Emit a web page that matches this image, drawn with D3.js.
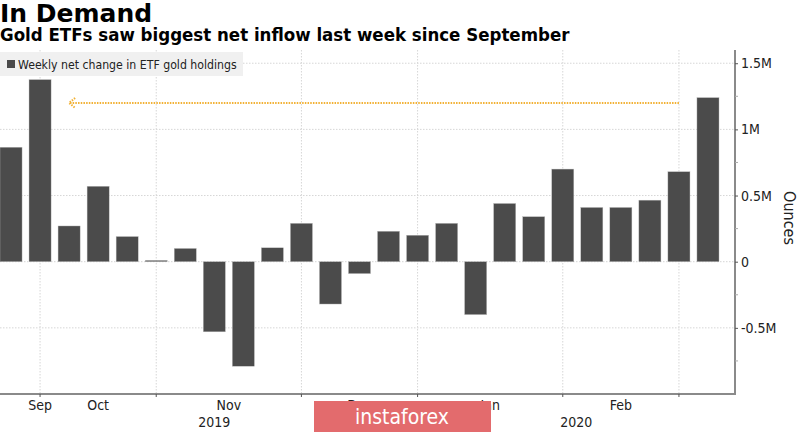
<!DOCTYPE html>
<html><head><meta charset="utf-8">
<script src="https://cdn.jsdelivr.net/npm/d3@7"></script>
<style>
html,body{margin:0;padding:0;background:#fff;}
svg{display:block;}
</style></head>
<body>
<svg id="chart" width="800" height="432"></svg>
<script>
const title = "In Demand";
const subtitle = "Gold ETFs saw biggest net inflow last week since September";
const legendLabel = "Weekly net change in ETF gold holdings";
const axisTitle = "Ounces";

const weeks = ["2019-09-27","2019-10-04","2019-10-11","2019-10-18","2019-10-25",
  "2019-11-01","2019-11-08","2019-11-15","2019-11-22","2019-11-29",
  "2019-12-06","2019-12-13","2019-12-20","2019-12-27",
  "2020-01-03","2020-01-10","2020-01-17","2020-01-24","2020-01-31",
  "2020-02-07","2020-02-14","2020-02-21","2020-02-28",
  "2020-03-06","2020-03-13"];
const netChange = [0.865, 1.376, 0.27, 0.57, 0.19,
  0.01, 0.10, -0.53, -0.79, 0.105,
  0.29, -0.32, -0.09, 0.23,
  0.20, 0.29, -0.40, 0.44, 0.34,
  0.70, 0.41, 0.41, 0.465,
  0.68, 1.24];

const monthTickWeeks = ["2019-10-04","2019-11-01","2019-12-06","2020-01-03","2020-02-07","2020-03-06"];
const monthLabels = ["Sep","Oct","Nov","Dec","Jan","Feb"];
const yearLabels = ["2019","2020"];
const yTicks = [-0.5, 0, 0.5, 1, 1.5];
const yTickLabels = ["-0.5M","0","0.5M","1M","1.5M"];
const yMinorTicks = [-0.75,-0.25,0.25,0.75,1.25];
const arrowFromWeek = "2020-03-06", arrowToWeek = "2019-10-11", arrowValue = 1.2;

const svg = d3.select("#chart");
const axisX = 735, plotTop = 50, plotBottom = 394;
const FONT = "'DejaVu Sans Condensed','DejaVu Sans',sans-serif";

const x = d3.scaleBand().domain(weeks).range([-3.5, 722.5]).paddingInner(0.24).paddingOuter(0.12);
const y = d3.scaleLinear().domain([-1.0, 1.6]).range([plotBottom, plotTop]);
const cx = w => x(w) + x.bandwidth()/2;

// titles
svg.append("text").attr("x", 0).attr("y", 22).attr("font-family", "'DejaVu Sans',sans-serif")
  .attr("font-weight", "bold").attr("font-size", 25).attr("fill", "#000").text(title);
svg.append("text").attr("x", 0).attr("y", 41).attr("font-family", FONT)
  .attr("font-weight", "bold").attr("font-size", 18.5).attr("fill", "#000").text(subtitle);

// gridlines
const grid = svg.append("g");
grid.selectAll("line.h").data(yTicks).join("line")
  .attr("x1", 0).attr("x2", axisX).attr("y1", d => y(d)).attr("y2", d => y(d))
  .attr("stroke", "#d6d6d6").attr("stroke-width", 1).attr("stroke-dasharray", "1.5,1.5");
grid.selectAll("line.v").data(monthTickWeeks).join("line")
  .attr("x1", d => cx(d)).attr("x2", d => cx(d)).attr("y1", plotTop).attr("y2", plotBottom)
  .attr("stroke", "#d6d6d6").attr("stroke-width", 1).attr("stroke-dasharray", "1.5,1.5");

// legend
const lg = svg.append("g");
lg.append("rect").attr("x", 0).attr("y", 52).attr("width", 243).attr("height", 24).attr("fill", "#f0f0f0");
lg.append("rect").attr("x", 7).attr("y", 60).attr("width", 8).attr("height", 8).attr("fill", "#4a4a4a");
lg.append("text").attr("x", 18).attr("y", 68.5).attr("font-family", FONT).attr("font-size", 12.2)
  .attr("fill", "#222").text(legendLabel);

// bars
svg.append("g").selectAll("rect").data(weeks).join("rect")
  .attr("x", d => x(d)).attr("width", x.bandwidth())
  .attr("y", (d,i) => y(Math.max(0, netChange[i])))
  .attr("height", (d,i) => Math.max(1, Math.abs(y(netChange[i]) - y(0))))
  .attr("fill", "#4b4b4b").attr("stroke", "#bdbdbd").attr("stroke-width", 0.4);

// arrow annotation
const ay = y(arrowValue), ax1 = cx(arrowFromWeek), ax2 = cx(arrowToWeek);
const ann = svg.append("g").attr("stroke", "#f2b134").attr("stroke-width", 2).attr("fill", "none")
  .attr("stroke-dasharray", "1.5,1.2");
ann.append("line").attr("x1", ax1).attr("x2", ax2).attr("y1", ay).attr("y2", ay);
ann.append("path").attr("d", `M${ax2+6},${ay-5} L${ax2},${ay} L${ax2+6},${ay+5}`);

// y axis (right)
const yAxis = d3.axisRight(y).tickValues(yTicks).tickFormat((d,i) => yTickLabels[i]).tickSize(3).tickPadding(3);
const ya = svg.append("g").attr("transform", `translate(${axisX},0)`).call(yAxis);
ya.select(".domain").attr("stroke", "#8a8a8a").attr("stroke-width", 2).attr("d", `M0,${plotTop}V${plotBottom}`);
ya.selectAll(".tick line").attr("stroke", "#555");
ya.selectAll(".tick text").attr("font-family", FONT).attr("font-size", 14).attr("fill", "#222");
svg.append("g").attr("transform", `translate(${axisX},0)`).selectAll("line").data(yMinorTicks).join("line")
  .attr("x1", 0).attr("x2", 3).attr("y1", d => y(d)).attr("y2", d => y(d)).attr("stroke", "#aaa");
svg.append("text").attr("transform", `translate(784,218) rotate(90)`).attr("text-anchor", "middle")
  .attr("font-family", FONT).attr("font-size", 16).attr("fill", "#222").text(axisTitle);

// x axis
svg.append("line").attr("x1", 0).attr("x2", axisX + 1).attr("y1", plotBottom).attr("y2", plotBottom)
  .attr("stroke", "#8a8a8a").attr("stroke-width", 2);
svg.append("g").selectAll("line").data(monthTickWeeks).join("line")
  .attr("x1", d => cx(d)).attr("x2", d => cx(d)).attr("y1", plotBottom).attr("y2", plotBottom + 3)
  .attr("stroke", "#555");
const tickXs = monthTickWeeks.map(cx);
const monthX = monthLabels.map((m, i) => i === 0 ? tickXs[0] : (tickXs[i-1] + tickXs[i]) / 2);
svg.append("g").selectAll("text").data(monthLabels).join("text")
  .attr("x", (d,i) => monthX[i]).attr("y", 410).attr("text-anchor", "middle")
  .attr("font-family", FONT).attr("font-size", 14).attr("fill", "#222").text(d => d);
const yearX = [(cx(weeks[0]) + tickXs[3]) / 2, (tickXs[3] + axisX) / 2];
svg.append("g").selectAll("text").data(yearLabels).join("text")
  .attr("x", (d,i) => yearX[i]).attr("y", 427).attr("text-anchor", "middle")
  .attr("font-family", FONT).attr("font-size", 14).attr("fill", "#222").text(d => d);

// watermark
svg.append("rect").attr("x", 314).attr("y", 401).attr("width", 177).attr("height", 31).attr("fill", "#e36b6d");
svg.append("text").attr("x", 402).attr("y", 424).attr("text-anchor", "middle")
  .attr("font-family", FONT).attr("font-size", 21).attr("fill", "#fff").text("instaforex");
</script>
</body></html>
